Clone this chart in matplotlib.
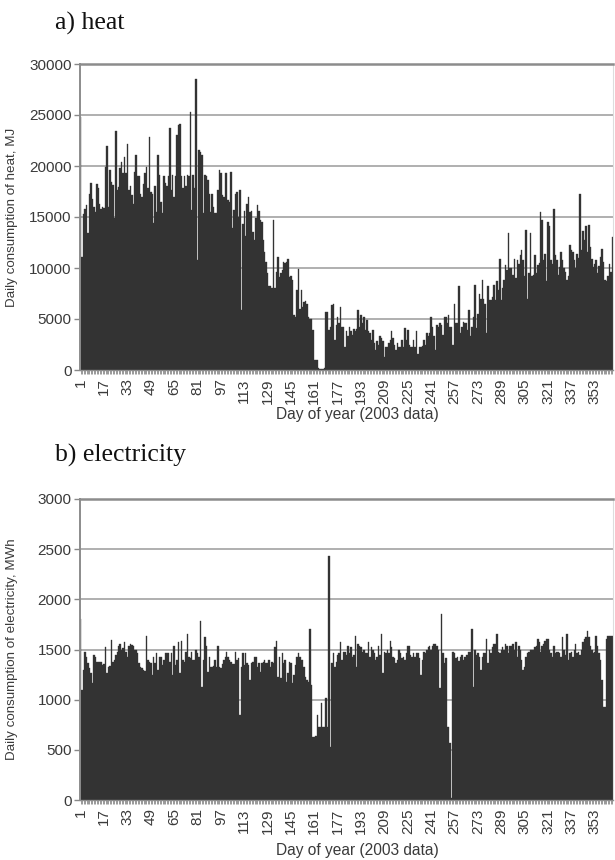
import numpy as np
import matplotlib
matplotlib.use("Agg")
import matplotlib.pyplot as plt
from matplotlib.ticker import MultipleLocator, FixedLocator

# daily heat consumption, MJ (days 1..365, 2003)
heat_mj = [
    24800, 11100, 15300, 15800, 16200, 13400, 17300, 18300, 16800, 16000,
    15500, 18200, 17800, 16300, 15800, 16000, 15900, 19900, 22000, 16000,
    19600, 18400, 18100, 14900, 23400, 17600, 17900, 19800, 20400, 19300,
    20900, 19300, 22200, 17600, 18000, 17200, 16300, 19400, 21100, 19000,
    19000, 17300, 17000, 18200, 19300, 19900, 17800, 22800, 17500, 17300,
    14400, 18000, 15500, 21100, 19100, 16500, 15400, 19000, 18300, 18000,
    19000, 23700, 17600, 19100, 17000, 19000, 23000, 24000, 24100, 19000,
    17800, 19000, 18000, 19100, 19000, 25300, 15700, 19100, 17800, 28500,
    10800, 21600, 21400, 21100, 15400, 19100, 19000, 18600, 17300, 15500,
    17300, 16000, 15400, 15400, 17600, 19600, 19300, 17200, 17000, 19300,
    19300, 16700, 16500, 19400, 13900, 15700, 17300, 17500, 15000, 17600,
    5900, 14300, 15600, 13100, 16300, 17000, 15500, 15600, 13500, 12700,
    14900, 16200, 15600, 14700, 14500, 12700, 11600, 10600, 9500, 8200,
    8200, 8000, 14700, 8000, 9600, 11100, 9100, 9500, 9800, 10600,
    10500, 10600, 10900, 9100, 9200, 8800, 5400, 5200, 7800, 9900,
    6000, 7800, 6200, 6700, 6800, 6500, 5200, 5000, 5000, 3900,
    1000, 1000, 950, 150, 100, 80, 100, 150, 5700, 5700,
    3900, 4200, 6400, 6500, 2900, 4400, 5200, 4600, 6200, 4200,
    4200, 2300, 3800, 3300, 4200, 3800, 3400, 4000, 3800, 4000,
    5900, 4200, 5400, 4600, 5200, 3900, 4900, 3800, 3600, 2900,
    3900, 2600, 2000, 2800, 2500, 3300, 3100, 2800, 1300, 2300,
    2300, 2600, 2900, 3800, 3100, 2500, 2000, 2600, 2300, 2300,
    2900, 2300, 4100, 2900, 3900, 2500, 2300, 2300, 2900, 2300,
    3800, 1600, 2300, 2300, 2400, 2900, 2500, 3600, 3300, 3600,
    5200, 4200, 3300, 2000, 4400, 4200, 4600, 4400, 3400, 5200,
    5200, 4600, 5400, 4200, 4200, 2500, 6500, 4600, 4600, 8200,
    3600, 4200, 4700, 4600, 4600, 3900, 5900, 3300, 4200, 5200,
    8300, 4100, 5500, 7500, 7000, 8800, 7000, 6500, 3600, 8200,
    6900, 6900, 7200, 8300, 6900, 8700, 7800, 10900, 6900, 8000,
    8800, 10300, 9800, 13400, 10000, 10000, 9300, 10900, 9000, 10800,
    10400, 11300, 11800, 10800, 9200, 13700, 7000, 9500, 13400, 9200,
    9300, 11300, 9500, 10300, 10500, 15500, 14700, 10800, 11400, 8700,
    14500, 14100, 10800, 10400, 15800, 11300, 10800, 9300, 10100, 11600,
    10800, 10000, 9600, 8800, 9200, 12300, 11800, 11600, 10800, 10000,
    11400, 11000, 17300, 11800, 13600, 12700, 14100, 11600, 14200, 12100,
    10900, 10100, 10400, 10800, 9500, 10200, 11100, 11900, 10600, 8800,
    8700, 9200, 10400, 9600, 13000,
]

# daily electricity consumption, MWh
elec_mwh = [
    1800, 1100, 1300, 1480, 1430, 1370, 1320, 1270, 1170, 1450,
    1430, 1380, 1380, 1380, 1380, 1350, 1360, 1520, 1270, 1330,
    1340, 1590, 1380, 1400, 1450, 1480, 1530, 1550, 1500, 1510,
    1570, 1480, 1430, 1530, 1550, 1540, 1530, 1500, 1500, 1470,
    1370, 1330, 1320, 1300, 1290, 1630, 1400, 1380, 1370, 1250,
    1430, 1370, 1470, 1300, 1430, 1430, 1350, 1400, 1470, 1470,
    1470, 1380, 1470, 1250, 1530, 1350, 1400, 1570, 1270, 1580,
    1400, 1380, 1480, 1650, 1430, 1420, 1480, 1400, 1400, 1500,
    1470, 1430, 1780, 1130, 1400, 1620, 1530, 1280, 1430, 1330,
    1330, 1340, 1400, 1330, 1530, 1330, 1320, 1360, 1400, 1430,
    1480, 1430, 1400, 1380, 1360, 1360, 1480, 1400, 1420, 850,
    1330, 1470, 1350, 1470, 1370, 1350, 1200, 1370, 1380, 1430,
    1430, 1330, 1370, 1280, 1370, 1380, 1400, 1370, 1370, 1400,
    1330, 1380, 1370, 1520, 1580, 1230, 1430, 1220, 1470, 1370,
    1400, 1180, 1270, 1380, 1370, 1170, 1250, 1350, 1430, 1470,
    1430, 1400, 1400, 1330, 1230, 1200, 1180, 1700, 1150, 630,
    630, 640, 850, 730, 730, 970, 730, 730, 1020, 730,
    2430, 530, 1370, 1470, 1330, 1380, 1450, 1470, 1570, 1400,
    1480, 1480, 1450, 1530, 1470, 1520, 1430, 1450, 1630, 1330,
    1550, 1530, 1520, 1480, 1500, 1470, 1470, 1570, 1430, 1520,
    1500, 1470, 1400, 1430, 1530, 1450, 1650, 1270, 1480, 1470,
    1500, 1470, 1580, 1520, 1430, 1420, 1370, 1400, 1500, 1470,
    1420, 1430, 1400, 1470, 1530, 1530, 1450, 1430, 1470, 1430,
    1470, 1470, 1420, 1250, 1400, 1480, 1470, 1500, 1520, 1530,
    1500, 1530, 1550, 1550, 1530, 1500, 1120, 1850, 1470, 1370,
    1420, 730, 730, 570, 20, 1480, 1470, 1420, 1430, 1390,
    1430, 1450, 1400, 1430, 1450, 1450, 1480, 1480, 1700, 1130,
    1500, 1450, 1470, 1430, 1300, 1430, 1470, 1470, 1600, 1370,
    1500, 1470, 1520, 1550, 1550, 1650, 1480, 1470, 1500, 1520,
    1500, 1550, 1530, 1470, 1530, 1530, 1550, 1500, 1570, 1430,
    1530, 1500, 1400, 1300, 1330, 1430, 1470, 1480, 1500, 1500,
    1500, 1520, 1530, 1600, 1570, 1480, 1530, 1550, 1580, 1600,
    1600, 1500, 1470, 1430, 1530, 1470, 1480, 1480, 1470, 1430,
    1620, 1500, 1450, 1650, 1400, 1470, 1480, 1430, 1500, 1550,
    1470, 1480, 1450, 1500, 1570, 1600, 1620, 1680, 1620, 1530,
    1500, 1470, 1480, 1630, 1530, 1470, 1400, 1200, 930, 930,
    1600, 1630, 1630, 1630, 1630,
]

days = np.arange(1, len(heat_mj) + 1)
day_ticks = list(range(1, 366, 16))

BAR = "#333333"
GRID = "#a9a9a9"
TXT = "#3a3a3a"
SANS = ["Liberation Sans", "DejaVu Sans"]
SERIF = ["Liberation Serif", "DejaVu Serif"]

W, H = 615, 860
fig = plt.figure(figsize=(W / 100, H / 100), dpi=100)


def panel(box, values, ymax, ystep, ylabel, title, title_y, xlabel_y):
    left, top, right, bottom = box
    ax = fig.add_axes([left / W, 1 - bottom / H, (right - left) / W, (bottom - top) / H])
    # bars touch each other so the mass reads as one dark area
    ax.bar(days, values, width=1.0, color=BAR, edgecolor=BAR, linewidth=0.25, zorder=2)
    ax.set_xlim(0.5, 365.5)
    ax.set_ylim(0, ymax)
    ax.set_axisbelow(True)

    ax.yaxis.set_major_locator(MultipleLocator(ystep))
    ax.grid(axis="y", color=GRID, linewidth=1.3)
    ax.xaxis.set_major_locator(FixedLocator(day_ticks))
    ax.xaxis.set_minor_locator(MultipleLocator(1))
    ax.set_xticklabels([str(d) for d in day_ticks], rotation=90,
                       family=SANS, fontsize=11, color=TXT)
    for lab in ax.get_yticklabels():
        lab.set_family(SANS)
        lab.set_fontsize(11)
        lab.set_color(TXT)
    ax.tick_params(axis="x", which="both", length=3, width=0.6, color="#888888", pad=3)
    ax.tick_params(axis="y", length=4, width=1, color="#888888", pad=2)

    for side, col, lw in (("left", "#8c8c8c", 1.4), ("bottom", "#8c8c8c", 1.0),
                          ("top", "#8c8c8c", 1.8), ("right", "#dddddd", 0.8)):
        ax.spines[side].set_color(col)
        ax.spines[side].set_linewidth(lw)

    ax.set_ylabel(ylabel, family=SANS, fontsize=9.6, color=TXT)
    ax.yaxis.set_label_coords((18 - left) / (right - left), 0.5)

    fig.text(357 / W, 1 - xlabel_y / H, "Day of year (2003 data)", family=SANS,
             fontsize=11.2, color=TXT, ha="center", va="center")
    fig.text(55 / W, 1 - title_y / H, title, family=SERIF, fontsize=18.5,
             color="#111111", ha="left", va="baseline")
    return ax


panel((80, 64, 613, 370), heat_mj, 30000, 5000,
      "Daily consumption of heat, MJ", "a) heat", 30, 415)
panel((80, 499, 613, 800), elec_mwh, 3000, 500,
      "Daily consumption of electricity, MWh", "b) electricity", 462, 850)

fig.savefig("out.png", dpi=100)
